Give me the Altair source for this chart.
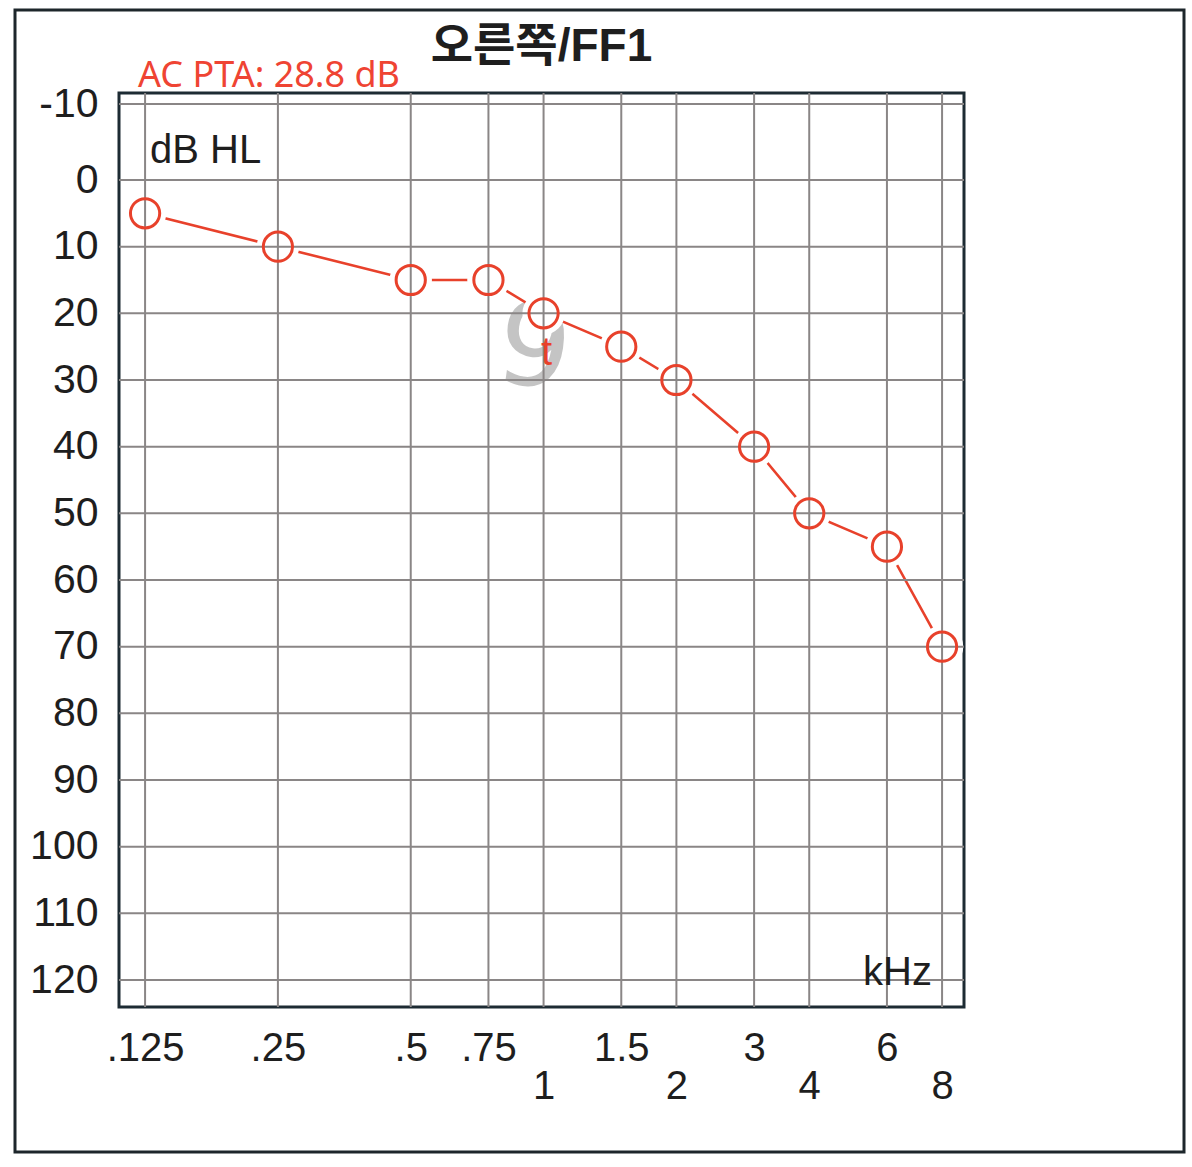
import altair as alt
import pandas as pd

# ---- data ----
freqs = [0.125, 0.25, 0.5, 0.75, 1, 1.5, 2, 3, 4, 6, 8]
db_hl = [5, 10, 15, 15, 20, 25, 30, 40, 50, 55, 70]
tick_text = [".125", ".25", ".5", ".75", "1", "1.5", "2", "3", "4", "6", "8"]
lower_row = [1, 2, 4, 8]
y_ticks = [-10, 0, 10, 20, 30, 40, 50, 60, 70, 80, 90, 100, 110, 120]
pta_freqs = [0.5, 1, 2, 4]

title_text = "오른쪽/FF1"
pta = sum(d for f, d in zip(freqs, db_hl) if f in pta_freqs) / len(pta_freqs)
pta_text = f"AC PTA: {pta:.1f} dB"

df = pd.DataFrame({"freq": freqs, "db": db_hl})
df_xgrid = pd.DataFrame({"freq": freqs})
df_ygrid = pd.DataFrame({"db": y_ticks})

RED = "#e8412b"
INK = "#1e1e1e"
GRID = "#8a8686"
FONT = "Liberation Sans, Arial, Noto Sans CJK KR"

W, H = 845, 914

lab_map = "{" + ", ".join(f"'{f}': '{t}'" for f, t in zip(freqs, tick_text)) + "}"
low_test = " || ".join(f"datum.value == {v}" for v in lower_row)
label_expr = f"({low_test}) ? ['', {lab_map}[''+datum.value]] : {lab_map}[''+datum.value]"

xscale = alt.Scale(type="log", domain=[0.1091, 8.97], range=[0, W], nice=False)
yscale = alt.Scale(domain=[-11.5, -10, 0, 120, 124.05], range=[0, 11, 87, 887, H],
                   nice=False, zero=False)

xax = alt.Axis(values=freqs, labelExpr=label_expr, title=None, domain=False, ticks=False,
               grid=False, labelFontSize=40, labelFont=FONT,
               labelColor=INK, labelPadding=21, labelLineHeight=38, labelBaseline="top",
               labelFlush=False, labelOverlap=False)
yax = alt.Axis(values=y_ticks, labelExpr="'' + datum.value", title=None, domain=False,
               ticks=False, grid=False, labelFontSize=41, labelFont=FONT,
               labelColor=INK, labelPadding=21, labelOverlap=False, labelFlush=False)

base = alt.Chart(df)

line = base.mark_line(color=RED, strokeWidth=2.6).encode(
    x=alt.X("freq:Q", scale=xscale, axis=xax),
    y=alt.Y("db:Q", scale=yscale, axis=yax),
)
# white discs that open a small gap between the line and each circle
disc = base.mark_point(shape="circle", filled=True, color="white", size=1800,
                       opacity=1).encode(x="freq:Q", y="db:Q")

xgrid = alt.Chart(df_xgrid).mark_rule(color=GRID, strokeWidth=2).encode(x="freq:Q")
ygrid = alt.Chart(df_ygrid).mark_rule(color=GRID, strokeWidth=2).encode(y="db:Q")

circ = base.mark_point(shape="circle", filled=False, stroke=RED, strokeWidth=3,
                       size=855, opacity=1).encode(x="freq:Q", y="db:Q")

scribble = alt.Chart(pd.DataFrame({"freq": [0.95], "db": [25.6], "t": ["9"]})).mark_text(
    fontSize=115, font="DejaVu Sans", color="#8a8a8a", opacity=0.5, baseline="middle",
    align="center", angle=8
).encode(x="freq:Q", y="db:Q", text="t:N")

tmark = alt.Chart(pd.DataFrame({"freq": [1], "db": [27.8], "t": ["t"]})).mark_text(
    fontSize=40, font=FONT, color=RED, baseline="alphabetic", align="center", dx=3
).encode(x="freq:Q", y="db:Q", text="t:N")

dbhl = alt.Chart(pd.DataFrame({"t": ["dB HL"]})).mark_text(
    fontSize=40, font=FONT, color=INK, align="left", baseline="alphabetic"
).encode(x=alt.value(31), y=alt.value(70), text="t:N")

khz = alt.Chart(pd.DataFrame({"t": ["kHz"]})).mark_text(
    fontSize=40, font=FONT, color=INK, align="right", baseline="alphabetic"
).encode(x=alt.value(W - 32), y=alt.value(H - 22), text="t:N")

ptat = alt.Chart(pd.DataFrame({"t": [pta_text]})).mark_text(
    fontSize=36, font="Noto Sans", color="#ef4433", align="left", baseline="alphabetic"
).encode(x=alt.value(19), y=alt.value(-6), text="t:N")

titlet = alt.Chart(pd.DataFrame({"t": [title_text]})).mark_text(
    fontSize=46, font="Liberation Sans, Noto Sans CJK KR", fontWeight="bold", color=INK,
    align="center", baseline="alphabetic"
).encode(x=alt.value(W / 2), y=alt.value(-32), text="t:N")

outer = alt.Chart(pd.DataFrame({"a": [0]})).mark_rect(
    fill=None, stroke="#1d262b", strokeWidth=3
).encode(x=alt.value(-104), x2=alt.value(1065), y=alt.value(-83), y2=alt.value(1059))

chart = alt.layer(
    outer, scribble, line, disc, xgrid, ygrid, circ, tmark, dbhl, khz, ptat, titlet
).properties(
    width=W, height=H,
    background="white",
    autosize=alt.AutoSizeParams(type="none"),
    padding={"left": 119, "top": 93, "right": 228, "bottom": 160},
).configure_view(stroke="#1d2b33", strokeWidth=3)

chart.save("out.html", embed_options={"renderer": "svg", "actions": False})
